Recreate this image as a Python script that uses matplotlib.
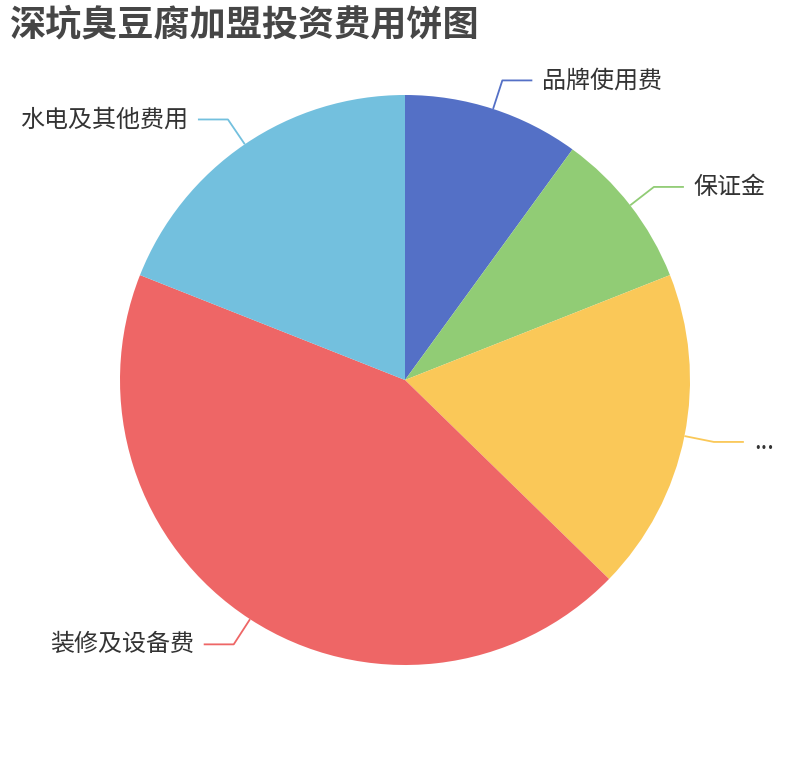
import numpy as np
import matplotlib
matplotlib.use("Agg")
import matplotlib.pyplot as plt

plt.rcParams['font.family'] = ['Noto Sans CJK SC', 'DejaVu Sans']

title = "深坑臭豆腐加盟投资费用饼图"
categories = ["品牌使用费", "保证金", "...", "装修及设备费", "水电及其他费用"]
values = [10, 9, 18.3, 43.7, 19]
colors = ["#5470c6", "#91cc75", "#fac858", "#ee6666", "#73c0de"]

W, H = 810, 760
fig = plt.figure(figsize=(W / 100, H / 100), dpi=100)
ax = fig.add_axes([0, 0, 1, 1])
ax.set_xlim(0, W)
ax.set_ylim(0, H)
ax.set_aspect('equal')
ax.axis('off')

cx, cy, R = 405, H - 380, 285
wedges, _ = ax.pie(values, colors=colors, startangle=90, counterclock=False,
                   center=(cx, cy), radius=R, wedgeprops=dict(linewidth=0))
ax.set_xlim(0, W)
ax.set_ylim(0, H)

total = float(sum(values))
cum = 0.0
for lab, v, c in zip(categories, values, colors):
    mid = (cum + v / 2) / total * 360.0
    cum += v
    a = np.deg2rad(90 - mid)
    x0, y0 = cx + R * np.cos(a), cy + R * np.sin(a)
    x1, y1 = cx + (R + 30) * np.cos(a), cy + (R + 30) * np.sin(a)
    side = 1 if np.cos(a) >= 0 else -1
    x2 = x1 + side * 30
    ax.plot([x0, x1, x2], [y0, y1, y1], color=c, lw=1.3, solid_capstyle='butt')
    ax.text(x2 + side * 10, y1, lab, ha='left' if side > 0 else 'right',
            va='center', fontsize=17.3, color='#333333')

fig.text(10 / W, 1 - 25 / H, title, ha='left', va='center', fontsize=26,
         fontweight='bold', color='#464646')

fig.savefig("out.png", dpi=100)
